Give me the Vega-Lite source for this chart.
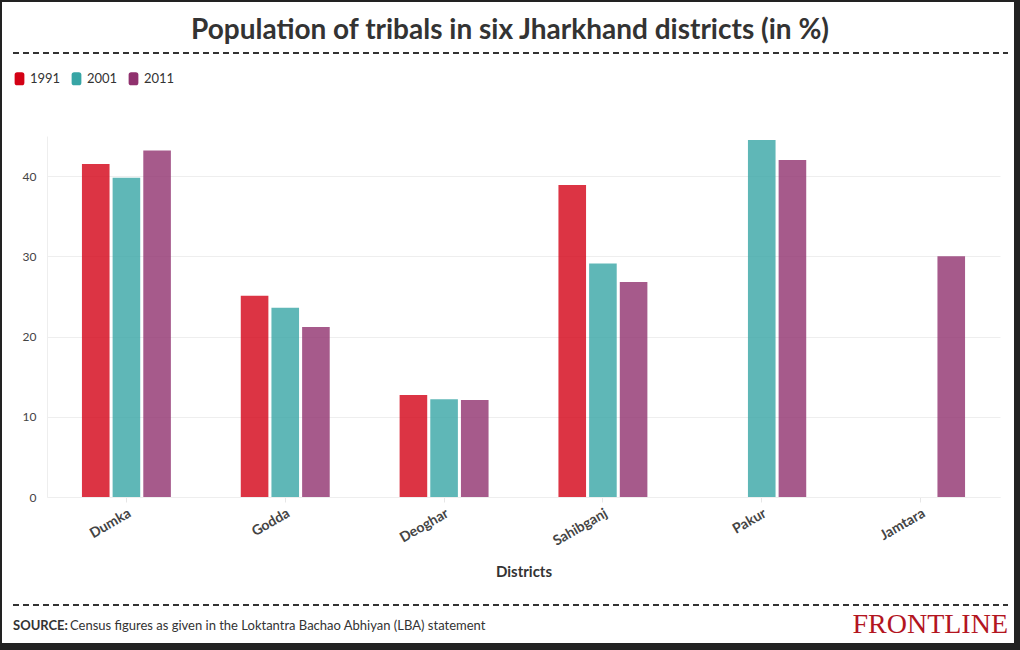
{
  "$schema": "https://vega.github.io/schema/vega-lite/v6.json",
  "width": 953,
  "height": 361,
  "autosize": {"type": "none"},
  "padding": {"left": 47, "top": 136, "right": 20, "bottom": 153},
  "background": "white",
  "config": {"view": {"stroke": null}, "font": "Lato"},
  "data": {
    "values": [
      {"district": "Dumka", "year": "1991", "pct": 41.5},
      {"district": "Dumka", "year": "2001", "pct": 39.8},
      {"district": "Dumka", "year": "2011", "pct": 43.2},
      {"district": "Godda", "year": "1991", "pct": 25.1},
      {"district": "Godda", "year": "2001", "pct": 23.6},
      {"district": "Godda", "year": "2011", "pct": 21.2},
      {"district": "Deoghar", "year": "1991", "pct": 12.7},
      {"district": "Deoghar", "year": "2001", "pct": 12.2},
      {"district": "Deoghar", "year": "2011", "pct": 12.1},
      {"district": "Sahibganj", "year": "1991", "pct": 38.9},
      {"district": "Sahibganj", "year": "2001", "pct": 29.1},
      {"district": "Sahibganj", "year": "2011", "pct": 26.8},
      {"district": "Pakur", "year": "2001", "pct": 44.5},
      {"district": "Pakur", "year": "2011", "pct": 42.0},
      {"district": "Jamtara", "year": "2011", "pct": 30.0}
    ]
  },
  "layer": [
    {
      "mark": {"type": "bar", "opacity": 0.8},
      "encoding": {
        "x": {
          "field": "district",
          "type": "nominal",
          "sort": ["Dumka", "Godda", "Deoghar", "Sahibganj", "Pakur", "Jamtara"],
          "scale": {"paddingInner": 0.44, "paddingOuter": 0.22},
          "title": "Districts",
          "axis": {
            "labelAngle": -30,
            "labelFontWeight": "bold",
            "labelFontSize": 14,
            "labelColor": "#444",
            "domainColor": "#eeeeee",
            "tickColor": "#e6e6e6",
            "tickSize": 5,
            "labelPadding": 4,
            "titleFontSize": 15,
            "titleFontWeight": "bold",
            "titleColor": "#333",
            "titlePadding": 16,
            "grid": false
          }
        },
        "xOffset": {
          "field": "year",
          "type": "nominal",
          "scale": {"domain": ["1991", "2001", "2011"], "paddingInner": 0.1, "paddingOuter": 0}
        },
        "y": {
          "field": "pct",
          "type": "quantitative",
          "scale": {"domain": [0, 45], "nice": false},
          "axis": {
            "values": [0, 10, 20, 30, 40],
            "title": null,
            "ticks": false,
            "labelPadding": 11,
            "labelFontSize": 12,
            "labelColor": "#444",
            "gridColor": "#eeeeee",
            "domainColor": "#eeeeee"
          }
        },
        "color": {
          "field": "year",
          "type": "nominal",
          "scale": {"domain": ["1991", "2001", "2011"], "range": ["#d30115", "#37a5a5", "#90316e"]},
          "legend": {
            "orient": "none",
            "legendX": -34,
            "legendY": -64,
            "direction": "horizontal",
            "title": null,
            "symbolType": "M-0.75,-0.6 Q-0.75,-1 -0.35,-1 L0.35,-1 Q0.75,-1 0.75,-0.6 L0.75,0.6 Q0.75,1 0.35,1 L-0.35,1 Q-0.75,1 -0.75,0.6 Z",
            "symbolSize": 169,
            "symbolOpacity": 1,
            "symbolStrokeWidth": 0,
            "labelFontSize": 13,
            "labelColor": "#333",
            "labelOffset": 4,
            "columnPadding": 9,
            "padding": 0
          }
        }
      }
    },
    {
      "data": {"values": [{}]},
      "mark": {"type": "rect", "fillOpacity": 0, "stroke": "#222", "strokeWidth": 7},
      "encoding": {
        "x": {"datum": -0.05089, "type": "quantitative", "scale": {"domain": [0, 1], "nice": false}, "axis": null},
        "x2": {"datum": 1.01836},
        "y": {"datum": 62.14, "type": "quantitative", "scale": {"domain": [0, 45], "nice": false}, "axis": null},
        "y2": {"datum": -18.636}
      }
    },
    {
      "data": {"values": [{}]},
      "mark": {"type": "rule", "stroke": "#333", "strokeWidth": 2, "strokeDash": [6, 4]},
      "encoding": {
        "x": {"datum": -0.03568, "type": "quantitative", "scale": {"domain": [0, 1], "nice": false}, "axis": null},
        "x2": {"datum": 1.00839},
        "y": {"datum": 55.346, "type": "quantitative", "scale": {"domain": [0, 45], "nice": false}, "axis": null}
      }
    },
    {
      "data": {"values": [{}]},
      "mark": {"type": "rule", "stroke": "#333", "strokeWidth": 2, "strokeDash": [6, 4]},
      "encoding": {
        "x": {"datum": -0.03568, "type": "quantitative", "scale": {"domain": [0, 1], "nice": false}, "axis": null},
        "x2": {"datum": 1.00839},
        "y": {"datum": -13.463, "type": "quantitative", "scale": {"domain": [0, 45], "nice": false}, "axis": null}
      }
    },
    {
      "data": {"values": [{}]},
      "mark": {"type": "text", "text": "Population of tribals in six Jharkhand districts (in %)", "font": "Lato", "fontSize": 28, "fontWeight": "bold", "color": "#333", "align": "center", "baseline": "alphabetic"},
      "encoding": {
        "x": {"datum": 0.48583, "type": "quantitative", "scale": {"domain": [0, 1], "nice": false}, "axis": null},
        "y": {"datum": 57.09, "type": "quantitative", "scale": {"domain": [0, 45], "nice": false}, "axis": null}
      }
    },
    {
      "data": {"values": [{}]},
      "mark": {"type": "text", "text": "SOURCE:", "font": "Lato", "fontSize": 13, "fontWeight": "bold", "color": "#333", "align": "left", "baseline": "alphabetic"},
      "encoding": {
        "x": {"datum": -0.03568, "type": "quantitative", "scale": {"domain": [0, 1], "nice": false}, "axis": null},
        "y": {"datum": -16.579, "type": "quantitative", "scale": {"domain": [0, 45], "nice": false}, "axis": null}
      }
    },
    {
      "data": {"values": [{}]},
      "mark": {"type": "text", "text": "Census figures as given in the Loktantra Bachao Abhiyan (LBA) statement", "font": "Lato", "fontSize": 13, "color": "#333", "align": "left", "baseline": "alphabetic"},
      "encoding": {
        "x": {"datum": 0.02413, "type": "quantitative", "scale": {"domain": [0, 1], "nice": false}, "axis": null},
        "y": {"datum": -16.579, "type": "quantitative", "scale": {"domain": [0, 45], "nice": false}, "axis": null}
      }
    },
    {
      "data": {"values": [{}]},
      "mark": {"type": "text", "text": "FRONTLINE", "font": "Liberation Serif", "fontSize": 28, "color": "#b3151f", "align": "right", "baseline": "alphabetic"},
      "encoding": {
        "x": {"datum": 1.00839, "type": "quantitative", "scale": {"domain": [0, 1], "nice": false}, "axis": null},
        "y": {"datum": -16.953, "type": "quantitative", "scale": {"domain": [0, 45], "nice": false}, "axis": null}
      }
    }
  ],
  "resolve": {"scale": {"x": "independent", "y": "independent"}}
}
